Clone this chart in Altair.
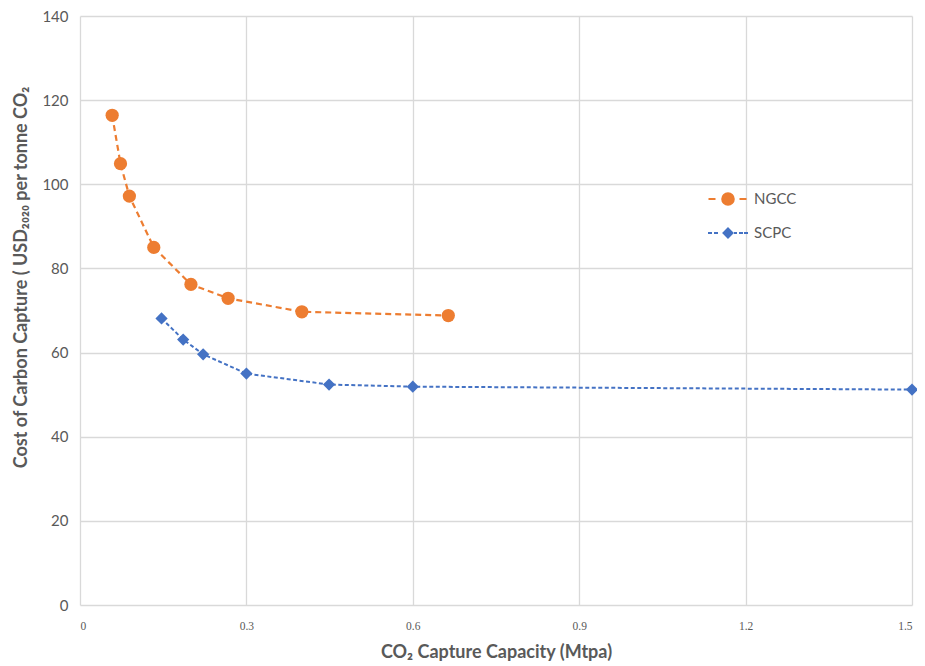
import altair as alt
import pandas as pd

ngcc_x = [0.058, 0.073, 0.089, 0.133, 0.2, 0.267, 0.4, 0.664]
ngcc_y = [116.4, 104.9, 97.2, 85.0, 76.2, 72.9, 69.7, 68.8]
scpc_x = [0.147, 0.186, 0.222, 0.3, 0.449, 0.6, 1.5]
scpc_y = [68.1, 63.1, 59.6, 55.0, 52.4, 51.9, 51.2]
series_names = ["NGCC", "SCPC"]
series_colors = ["#ED7D31", "#4472C4"]
x_ticks = [0, 0.3, 0.6, 0.9, 1.2, 1.5]
y_ticks = [0, 20, 40, 60, 80, 100, 120, 140]

ngcc = pd.DataFrame({"x": ngcc_x, "y": ngcc_y, "series": "NGCC"})
scpc = pd.DataFrame({"x": scpc_x, "y": scpc_y, "series": "SCPC"})
df = pd.concat([ngcc, scpc])

GREY = "#595959"
GRID = "#D9D9D9"

xenc = alt.X("x:Q", scale=alt.Scale(domain=[0, 1.5], nice=False),
             axis=alt.Axis(values=x_ticks, title="CO₂ Capture Capacity (Mtpa)",
                           labelExpr="datum.value == 0 ? '0' : format(datum.value, '.1f')",
                           labelFont="Liberation Serif", labelFontSize=11.5, labelColor=GREY,
                           labelPadding=15, ticks=False, domain=False,
                           gridColor=GRID, gridWidth=1.3,
                           titleFont="Lato", titleFontSize=18, titleFontWeight="bold",
                           titleColor=GREY, titleY=52, titleBaseline="alphabetic"))
yenc = alt.Y("y:Q", scale=alt.Scale(domain=[0, 140], nice=False),
             axis=alt.Axis(values=y_ticks,
                           title="Cost of Carbon Capture ( USD₂₀₂₀ per tonne CO₂",
                           labelFont="Lato", labelFontSize=15, labelColor=GREY,
                           labelPadding=12, ticks=False, domain=False,
                           gridColor=GRID, gridWidth=1.3,
                           titleFont="Lato", titleFontSize=18, titleFontWeight="bold",
                           titleColor=GREY, titleX=-59, titleY=261, titleAngle=-90,
                           titleBaseline="middle", titleAlign="center"))

lines_ngcc = alt.Chart(ngcc).mark_line(
    strokeDash=[6, 4], strokeWidth=2.2, color=series_colors[0]).encode(x=xenc, y=yenc)
lines_scpc = alt.Chart(scpc).mark_line(
    strokeDash=[4, 2.5], strokeWidth=2, color=series_colors[1]).encode(x=xenc, y=yenc)
pts_ngcc = alt.Chart(ngcc).mark_point(
    filled=True, opacity=1, shape="circle", size=175, color=series_colors[0]).encode(x=xenc, y=yenc)
pts_scpc = alt.Chart(scpc).mark_point(
    filled=True, opacity=1, shape="diamond", size=150, color=series_colors[1]).encode(x=xenc, y=yenc)

ngcc_sym = ("M-1.95,0L-1.25,0M1.15,0L1.85,0"
            "M-0.58,0A0.58,0.58 0 1,0 0.58,0A0.58,0.58 0 1,0 -0.58,0Z")
scpc_sym = ("M-2.0,0L-1.6,0M-1.4,0L-1.0,0M0.6,0L0.9,0M1.1,0L1.5,0M1.6,0L2.0,0"
            "M0,-0.45L0.45,0L0,0.45L-0.45,0Z")

cscale = alt.Scale(domain=series_names, range=series_colors)
leg = alt.Legend(title=None, orient="none", legendX=637, legendY=172, padding=0,
                 symbolSize=400, symbolStrokeWidth=2, labelOffset=15, rowPadding=13,
                 symbolOpacity=1,
                 labelFont="Lato", labelFontSize=15, labelColor=GREY)

legend_layer = alt.Chart(df).transform_filter("datum.x > 100").mark_point(
    filled=True, opacity=1, strokeWidth=2).encode(
    x=xenc, y=yenc,
    fill=alt.Fill("series:N", scale=cscale, legend=leg),
    stroke=alt.Stroke("series:N", scale=cscale, legend=leg),
    shape=alt.Shape("series:N", scale=alt.Scale(domain=series_names, range=[ngcc_sym, scpc_sym]), legend=leg),
)

chart = alt.layer(lines_ngcc, lines_scpc, pts_ngcc, pts_scpc, legend_layer).properties(
    width=832, height=589,
    autosize=alt.AutoSizeParams(type="none"),
    padding={"left": 72, "top": 8, "right": 5, "bottom": 62},
).configure_view(stroke=None)

chart.save("out.html", embed_options={"renderer": "svg", "actions": False})
